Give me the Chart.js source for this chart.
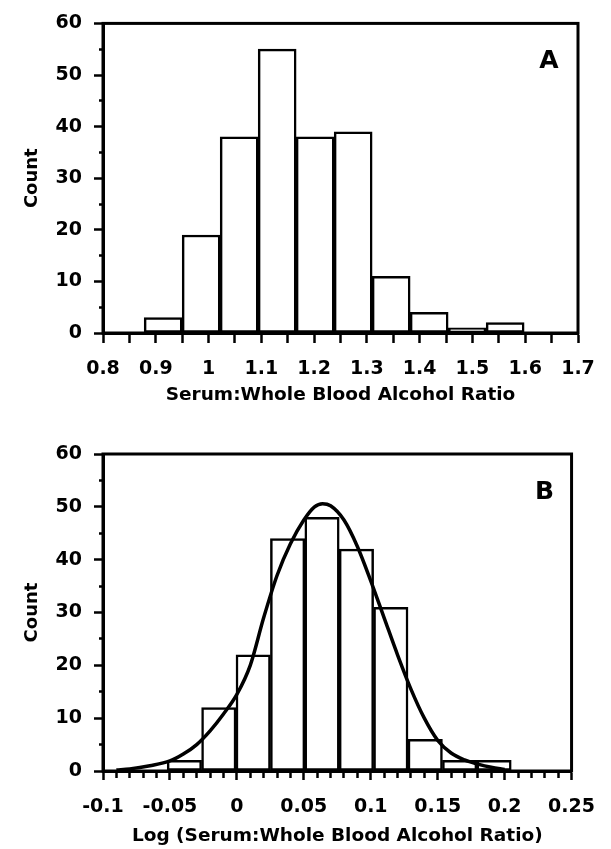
<!DOCTYPE html>
<html>
<head>
<meta charset="utf-8">
<script src="https://cdn.jsdelivr.net/npm/chart.js@4.4.0/dist/chart.umd.min.js"></script>
<style>
  html, body { margin: 0; padding: 0; background: #fff; }
  .panel { position: absolute; left: 0; width: 611px; }
  #panel-a { top: 0; height: 420px; }
  #panel-b { top: 420px; height: 429px; }
</style>
</head>
<body>
<div class="panel" id="panel-a"><canvas id="chart-a" width="611" height="420"></canvas></div>
<div class="panel" id="panel-b"><canvas id="chart-b" width="611" height="429"></canvas></div>
<script>
// panel A: serum / whole blood ratio histogram
const ratioBinCenters = [0.914, 0.986, 1.058, 1.130, 1.202, 1.274, 1.346, 1.418, 1.490, 1.562];
const ratioCounts = [3, 19, 38, 55, 38, 39, 11, 4, 1, 2];

// panel B: log ratio histogram + fitted normal curve
const logBinCenters = [-0.0392, -0.0135, 0.0122, 0.0379, 0.0636, 0.0893, 0.1150, 0.1407, 0.1664, 0.1921];
const logCounts = [2, 12, 22, 44, 48, 42, 31, 6, 2, 2];
const fitX = [-0.09, -0.08, -0.065, -0.05, -0.04, -0.03, -0.02, -0.01, 0, 0.01, 0.02, 0.03, 0.04, 0.05,
  0.058, 0.064, 0.07, 0.08, 0.09, 0.1, 0.11, 0.12, 0.13, 0.14, 0.15, 0.16, 0.17, 0.18, 0.19, 0.2];
const fitY = [0.2, 0.4, 1.0, 1.9, 3.2, 5.0, 7.6, 10.8, 14.5, 20, 29, 37, 43, 47.5,
  50, 50.6, 50.2, 47.5, 42.5, 36, 29, 22, 15.5, 10, 5.8, 3.4, 2.1, 1.3, 0.7, 0.3];

const FONT = 'DejaVu Sans';
const INK = '#000';

const framePlugin = {
  id: 'frame',
  afterDraw(chart, args, opts) {
    const { ctx, chartArea: a } = chart;
    ctx.save();
    ctx.strokeStyle = INK;
    ctx.lineWidth = 3;
    ctx.strokeRect(a.left, a.top, a.right - a.left, a.bottom - a.top);
    ctx.font = `bold 25px "${FONT}"`;
    ctx.fillStyle = INK;
    ctx.textAlign = 'center';
    ctx.textBaseline = 'middle';
    ctx.fillText(opts.letter, a.right + opts.dx, a.top + opts.dy);
    ctx.restore();
  }
};

function isMultiple(v, step) {
  const k = Math.round(v / step);
  return Math.abs(v - k * step) < 1e-6;
}

function fmt(v, step) {
  if (!isMultiple(v, step)) return '';
  return String(+(Math.round(v / step) * step).toFixed(2));
}

function histBars(centers, counts) {
  return {
    order: 1,
    data: centers.map((x, i) => ({ x, y: counts[i] })),
    backgroundColor: '#fff',
    borderColor: INK,
    borderWidth: 2.5,
    borderSkipped: false,
    barThickness: 'flex',
    barPercentage: 1,
    categoryPercentage: 1
  };
}

function countAxis() {
  return {
    min: 0,
    max: 60,
    afterFit: s => { s.width = 103; },
    border: { color: INK, width: 3 },
    grid: {
      drawOnChartArea: false,
      tickLength: 9,
      tickColor: INK,
      tickWidth: 2.5,
      tickBorderDash: c => (c.tick && c.tick.value % 10 !== 0) ? [0, 5, 4, 100] : []
    },
    ticks: {
      stepSize: 5,
      padding: 12,
      color: INK,
      font: { family: FONT, size: 19, weight: 'bold' },
      callback: v => (v % 10 === 0 ? String(v) : '')
    },
    title: {
      display: true,
      text: 'Count',
      color: INK,
      font: { family: FONT, size: 18, weight: 'bold' },
      padding: { top: 22, bottom: 0 }
    }
  };
}

new Chart(document.getElementById('chart-a'), {
  type: 'bar',
  data: {
    datasets: [histBars(ratioBinCenters, ratioCounts)]
  },
  options: {
    responsive: false,
    animation: false,
    layout: { padding: { left: 0, top: 15, right: 33, bottom: 0 } },
    plugins: {
      legend: { display: false },
      tooltip: { enabled: false },
      frame: { letter: 'A', dx: -29, dy: 38 }
    },
    scales: {
      x: {
        type: 'linear',
        min: 0.8,
        max: 1.7,
        offset: false,
        afterFit: s => { s.height = 87; },
        border: { color: INK, width: 3 },
        grid: { offset: false, drawOnChartArea: false, tickLength: 10, tickColor: INK, tickWidth: 2.5 },
        ticks: {
          stepSize: 0.05,
          autoSkip: false,
          maxRotation: 0,
          minRotation: 0,
          padding: 15,
          color: INK,
          font: { family: FONT, size: 19, weight: 'bold' },
          callback: v => fmt(v, 0.1)
        },
        title: {
          display: true,
          text: 'Serum:Whole Blood Alcohol Ratio',
          color: INK,
          font: { family: FONT, size: 18.5, weight: 'bold' },
          padding: { top: 0, bottom: 14 }
        }
      },
      y: countAxis()
    }
  },
  plugins: [framePlugin]
});

new Chart(document.getElementById('chart-b'), {
  type: 'bar',
  data: {
    datasets: [{
      type: 'line',
      order: 0,
      data: fitX.map((x, i) => ({ x, y: fitY[i] })),
      borderColor: INK,
      borderWidth: 3.5,
      pointRadius: 0,
      fill: false,
      cubicInterpolationMode: 'monotone'
    }, histBars(logBinCenters, logCounts)]
  },
  options: {
    responsive: false,
    animation: false,
    layout: { padding: { left: 0, top: 34, right: 32, bottom: 0 } },
    plugins: {
      legend: { display: false },
      tooltip: { enabled: false },
      frame: { letter: 'B', dx: -27, dy: 38 }
    },
    scales: {
      x: {
        type: 'linear',
        min: -0.1,
        max: 0.25,
        offset: false,
        afterFit: s => { s.height = 78; },
        border: { color: INK, width: 3 },
        grid: {
          offset: false,
          drawOnChartArea: false,
          tickLength: 9,
          tickColor: INK,
          tickWidth: 2.5,
          tickBorderDash: c => (c.tick && !isMultiple(c.tick.value, 0.05)) ? [5, 100] : []
        },
        ticks: {
          stepSize: 0.01,
          autoSkip: false,
          maxRotation: 0,
          minRotation: 0,
          padding: 16,
          color: INK,
          font: { family: FONT, size: 19, weight: 'bold' },
          callback: v => fmt(v, 0.05)
        },
        title: {
          display: true,
          text: 'Log (Serum:Whole Blood Alcohol Ratio)',
          color: INK,
          font: { family: FONT, size: 18.5, weight: 'bold' },
          padding: { top: 0, bottom: 2 }
        }
      },
      y: countAxis()
    }
  },
  plugins: [framePlugin]
});
</script>
</body>
</html>
